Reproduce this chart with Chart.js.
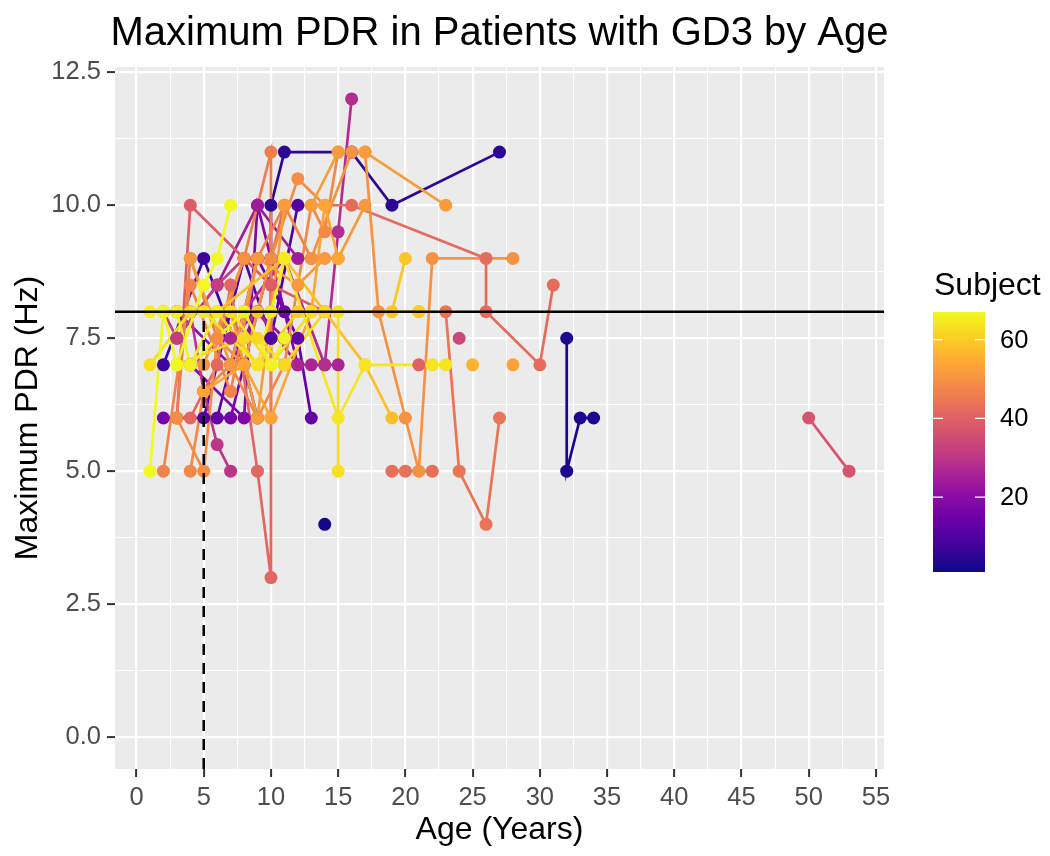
<!DOCTYPE html>
<html>
<head>
<meta charset="utf-8">
<script src="https://cdn.jsdelivr.net/npm/chart.js@4/dist/chart.umd.min.js"></script>
<style>
  html, body { margin: 0; padding: 0; background: #ffffff; }
</style>
</head>
<body>
<canvas id="pdr-chart" width="1050" height="856"></canvas>
<script>
// One entry per subject: subject number, ages (years) and maximum PDR (Hz)
const subjectIds = [2, 3, 5, 7, 10, 13, 16, 18, 21, 24, 26, 28, 30, 32, 34, 37, 39, 40, 41, 42, 43, 44,
                    46, 47, 48, 49, 50, 51, 52, 53, 54, 56, 57, 58, 59, 60, 62, 63, 64, 65, 66, 67];
const subjectAges = [
  [14], [32, 32, 33, 34], [10, 10, 11, 16, 19, 27], [2, 5, 8, 9], [5, 8, 10, 12],
  [6, 9, 12, 13], [2, 7, 10, 11], [4, 8, 9, 12], [3, 7, 9, 11], [3, 6, 9, 12],
  [7, 9, 12, 13, 14, 15], [8, 11, 14, 15, 16], [4, 5, 6, 7], [2, 3, 6, 8], [24],
  [50, 53], [3, 4, 10, 14], [21], [4, 6, 7, 9, 10, 10], [8, 11, 16, 26, 26, 30, 31],
  [19, 20, 22], [23, 24, 26, 27],
  [3, 4, 6, 8, 10, 10], [2, 4, 7, 9, 11, 13], [4, 5, 7, 9, 11, 13, 14, 15], [3, 5, 6, 8, 10, 12, 14],
  [5, 8, 13, 16, 17, 18, 20, 21, 22, 28], [4, 7, 9, 12, 14, 15, 17], [7, 9, 11, 13, 15, 17, 23],
  [28], [5, 8, 10, 13, 14, 15], [25], [21], [3, 6, 11, 17, 19], [5, 9, 13, 19, 20],
  [2, 6, 9, 12, 21], [3, 8, 9, 11, 14], [1, 4, 7, 10, 13, 15, 15], [2, 5, 9, 11, 15, 17, 22, 23],
  [4, 6, 8, 10, 11], [1, 3, 4, 8, 10, 11], [1, 2, 3, 5, 6, 7]
];
const subjectPdr = [
  [4], [7.5, 5, 6, 6], [7.5, 10, 11, 11, 10, 11], [7, 9, 7, 6], [6, 9, 7.5, 10],
  [6, 9, 7.5, 6], [6, 6, 9, 8], [7, 6, 10, 7], [8, 7, 8, 7.5], [7.5, 8.5, 10, 9],
  [7.5, 8, 7, 7, 7, 7], [8, 9, 7, 9.5, 12], [8, 6.5, 5.5, 5], [8, 7.5, 8.5, 9], [7.5],
  [6, 5], [6, 10, 8.5, 8], [7], [6, 7, 8.5, 5, 3, 8], [7, 10, 10, 9, 8, 7, 8.5],
  [5, 5, 5], [8, 5, 4, 6],
  [6, 9, 7.5, 9, 11, 6], [5, 8.5, 6.5, 9, 10, 9], [5, 6.5, 7, 6, 7, 10, 9.5, 11], [6, 5, 7.5, 7, 9, 10.5, 10],
  [7, 9, 9, 11, 11, 8, 6, 5, 9, 9], [9, 7, 9, 8.5, 9, 9, 10], [8, 6, 10, 10, 11, 11, 10],
  [7], [6.5, 7, 6, 8, 10, 9], [7], [8], [8, 8, 9, 7, 6], [8, 8, 8, 8, 9],
  [8, 8, 7, 8, 8], [7, 7.5, 7.5, 7, 8], [7, 8, 8, 7, 8, 8, 5], [8, 8, 7, 9, 6, 7, 7, 7],
  [7, 8, 8, 8, 9], [8, 8, 7, 8, 7, 7.5], [5, 8, 7, 8.5, 9, 10]
];

const ageCutoff = 5;      // dashed vertical line
const pdrCutoff = 8;      // solid horizontal line
const subjectMin = 1;
const subjectMax = 67;
const xTicks = [0, 5, 10, 15, 20, 25, 30, 35, 40, 45, 50, 55];
const yTicks = [0, 2.5, 5, 7.5, 10, 12.5];
const legendTicks = [20, 40, 60];

const FONT = '"Liberation Sans", Arial, sans-serif';

// plasma colour map (viridis package)
const plasma = ['#0d0887', '#41049d', '#6a00a8', '#8f0da4', '#b12a90', '#cc4778',
                '#e16462', '#f2844b', '#fca636', '#fcce25', '#f0f921'];

function hexToRgb(h) {
    return [parseInt(h.slice(1, 3), 16), parseInt(h.slice(3, 5), 16), parseInt(h.slice(5, 7), 16)];
}

function plasmaColor(t) {
    t = Math.min(1, Math.max(0, t));
    const pos = t * (plasma.length - 1);
    const i = Math.min(plasma.length - 2, Math.floor(pos));
    const f = pos - i;
    const a = hexToRgb(plasma[i]);
    const b = hexToRgb(plasma[i + 1]);
    const c = a.map((v, k) => Math.round(v + (b[k] - v) * f));
    return `rgb(${c[0]},${c[1]},${c[2]})`;
}

function subjectColor(id) {
    return plasmaColor((id - subjectMin) / (subjectMax - subjectMin));
}

// lines first (drawn underneath), then points, like geom_line + geom_point
const lineSets = subjectIds.map((id, s) => ({
    data: subjectAges[s].map((a, k) => ({ x: a, y: subjectPdr[s][k] })),
    showLine: true,
    borderColor: subjectColor(id),
    borderWidth: 2.7,
    pointRadius: 0,
    order: 2,
}));

const pointSets = subjectIds.map((id, s) => ({
    data: subjectAges[s].map((a, k) => ({ x: a, y: subjectPdr[s][k] })),
    showLine: false,
    backgroundColor: subjectColor(id),
    borderColor: subjectColor(id),
    pointRadius: 6.5,
    pointBorderWidth: 0,
    order: 1,
}));

// Chart.js paints index 0 last, so reverse to keep higher subjects on top
lineSets.reverse();
pointSets.reverse();

function steps(from, to, step) {
    const out = [];
    for (let v = from; v <= to + 1e-9; v += step) out.push(Math.round(v * 100) / 100);
    return out;
}

const isMajor = (v, list) => list.some(t => Math.abs(t - v) < 1e-6);

const panelPlugin = {
    id: 'ggpanel',
    beforeDraw(chart) {
        const { ctx, chartArea: a } = chart;
        ctx.save();
        ctx.fillStyle = '#EBEBEB';
        ctx.fillRect(a.left, a.top, a.right - a.left, a.bottom - a.top);
        ctx.restore();
    },
    afterDatasetsDraw(chart) {
        const { ctx, chartArea: a, scales } = chart;
        const y8 = scales.y.getPixelForValue(pdrCutoff);
        const x5 = scales.x.getPixelForValue(ageCutoff);
        ctx.save();
        ctx.strokeStyle = '#000000';
        ctx.lineWidth = 2.5;
        ctx.beginPath();
        ctx.moveTo(a.left, y8);
        ctx.lineTo(a.right, y8);
        ctx.stroke();
        ctx.setLineDash([11, 8]);
        ctx.beginPath();
        ctx.moveTo(x5, a.bottom);
        ctx.lineTo(x5, y8);
        ctx.stroke();
        ctx.restore();
    },
    afterDraw(chart) {
        const { ctx, chartArea: a } = chart;
        ctx.save();
        // title
        ctx.fillStyle = '#000000';
        ctx.font = `40px ${FONT}`;
        ctx.textAlign = 'center';
        ctx.textBaseline = 'alphabetic';
        ctx.fillText('Maximum PDR in Patients with GD3 by Age', (a.left + a.right) / 2, 45);

        // colour bar legend
        const barL = 933, barR = 985, barT = 312, barB = 572;
        const grad = ctx.createLinearGradient(0, barB, 0, barT);
        for (let i = 0; i <= 20; i++) grad.addColorStop(i / 20, plasmaColor(i / 20));
        ctx.fillStyle = grad;
        ctx.fillRect(barL, barT, barR - barL, barB - barT);

        ctx.fillStyle = '#000000';
        ctx.font = `32px ${FONT}`;
        ctx.textAlign = 'left';
        ctx.fillText('Subject', 934, 295);

        ctx.font = `25.5px ${FONT}`;
        ctx.textBaseline = 'middle';
        ctx.strokeStyle = '#ffffff';
        ctx.lineWidth = 1.4;
        legendTicks.forEach(v => {
            const y = barB - (v - subjectMin) / (subjectMax - subjectMin) * (barB - barT);
            ctx.beginPath();
            ctx.moveTo(barL, y); ctx.lineTo(barL + 10, y);
            ctx.moveTo(barR - 10, y); ctx.lineTo(barR, y);
            ctx.stroke();
            ctx.fillStyle = '#000000';
            ctx.fillText(String(v), 1000, y + 1);
        });
        ctx.restore();
    }
};

const gridLine = list => ({
    color: '#ffffff',
    lineWidth: c => (c.tick && isMajor(c.tick.value, list) ? 2.2 : 1.1),
    drawTicks: true,
    tickLength: 8,
    tickWidth: 2,
    tickColor: c => (c.tick && isMajor(c.tick.value, list) ? '#333333' : 'rgba(0,0,0,0)'),
});

new Chart(document.getElementById('pdr-chart'), {
    type: 'scatter',
    data: { datasets: [...pointSets, ...lineSets] },
    options: {
        responsive: false,
        animation: false,
        layout: { padding: { top: 67, right: 166, left: 0, bottom: 0 } },
        plugins: { legend: { display: false }, tooltip: { enabled: false } },
        scales: {
            x: {
                type: 'linear',
                min: -1.6,
                max: 55.6,
                afterBuildTicks: s => { s.ticks = steps(0, 55, 2.5).map(v => ({ value: v })); },
                afterFit: s => { s.height = 87; },
                border: { display: false },
                grid: gridLine(xTicks),
                ticks: {
                    autoSkip: false,
                    maxRotation: 0,
                    padding: 6,
                    color: '#4D4D4D',
                    font: { family: FONT, size: 25.5 },
                    callback: v => (isMajor(v, xTicks) ? String(v) : ''),
                },
                title: {
                    display: true,
                    text: 'Age (Years)',
                    color: '#000000',
                    font: { family: FONT, size: 32 },
                    padding: { top: 0, bottom: 7 },
                },
            },
            y: {
                type: 'linear',
                min: -0.6,
                max: 12.6,
                afterBuildTicks: s => { s.ticks = steps(0, 12.5, 1.25).map(v => ({ value: v })); },
                afterFit: s => { s.width = 115; },
                border: { display: false },
                grid: gridLine(yTicks),
                ticks: {
                    autoSkip: false,
                    padding: 6,
                    color: '#4D4D4D',
                    font: { family: FONT, size: 25.5 },
                    callback: v => (isMajor(v, yTicks) ? v.toFixed(1) : ''),
                },
                title: {
                    display: true,
                    text: 'Maximum PDR (Hz)',
                    color: '#000000',
                    font: { family: FONT, size: 32 },
                    padding: { top: 9, bottom: 0 },
                },
            },
        },
    },
    plugins: [panelPlugin],
});
</script>
</body>
</html>
